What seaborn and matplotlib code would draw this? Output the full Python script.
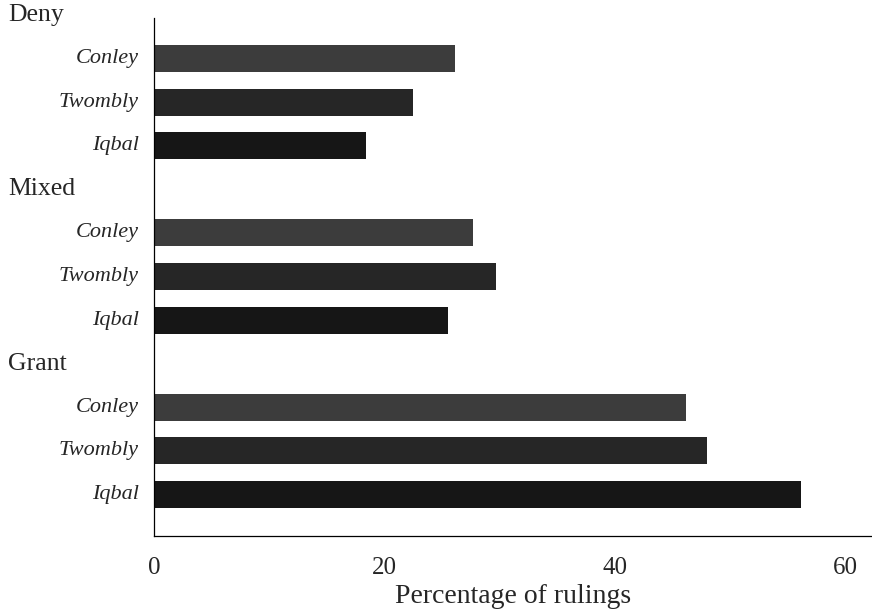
import numpy as np
import pandas as pd
import seaborn as sns
import matplotlib.pyplot as plt

# Data
groups = ['Deny', 'Mixed', 'Grant']
cases = ['Conley', 'Twombly', 'Iqbal']
deny_vals = [26.1, 22.5, 18.4]
mixed_vals = [27.7, 29.7, 25.5]
grant_vals = [46.2, 48.0, 56.1]
x_ticks = [0, 20, 40, 60]

sns.set_theme(style='white')
plt.rcParams['font.family'] = ['Liberation Serif', 'DejaVu Serif']

# Long table: one row per bar, plus the full row order (headers get empty slots)
rows = []
order = []
for g, vals in zip(groups, [deny_vals, mixed_vals, grant_vals]):
    order.append(g)
    for c, v in zip(cases, vals):
        rows.append({'row': g + '|' + c, 'case': c, 'pct': v})
        order.append(g + '|' + c)
df = pd.DataFrame(rows)

palette = {'Conley': '#3c3c3c', 'Twombly': '#262626', 'Iqbal': '#161616'}

fig = plt.figure(figsize=(8.72, 6.15), dpi=100)
ax = fig.add_axes([154 / 872, 1 - 536 / 615, 1 - 154 / 872, (536 - 18) / 615])

sns.barplot(data=df, y='row', x='pct', hue='case', order=order, palette=palette,
            dodge=False, width=0.62, legend=False, ax=ax, orient='h',
            edgecolor='none')

ax.set_xlim(0, 62.3)
ax.set_ylim(11.95, 0.07)
ax.set_xticks(x_ticks)
ax.set_xticklabels([str(t) for t in x_ticks], fontsize=18)
ax.tick_params(axis='x', direction='out', length=5, width=0.8, color='black', pad=10)
ax.set_yticks([])
ax.set_ylabel('')
ax.set_xlabel('Percentage of rulings', fontsize=20, labelpad=4)

for s in ['top', 'right']:
    ax.spines[s].set_visible(False)
for s in ['left', 'bottom']:
    ax.spines[s].set_color('black')
    ax.spines[s].set_linewidth(0.9)

# Row labels: upright group headers at far left, italic case names right-aligned
for i, name in enumerate(order):
    if '|' in name:
        ax.text(-1.3, i, name.split('|')[1], ha='right', va='center',
                fontsize=16, style='italic')
    else:
        ax.annotate(name, xy=(0, i), xycoords=('axes fraction', 'data'),
                    xytext=(-146, 0), textcoords='offset pixels',
                    ha='left', va='center', fontsize=18.5)

fig.savefig('out.png', dpi=100, facecolor='white')
